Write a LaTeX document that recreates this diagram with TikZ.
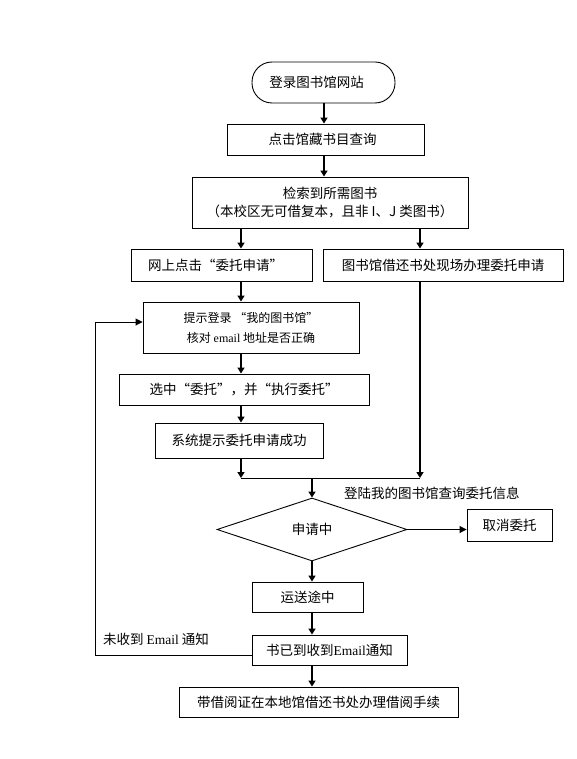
\documentclass[tikz,border=0pt]{standalone}
\usepackage{fontspec}
\setmainfont{Liberation Serif}
\newfontfamily\cjk{Noto Sans CJK SC}
\usetikzlibrary{shapes.geometric,arrows.meta}
\begin{document}
\begin{tikzpicture}[x=1pt,y=-1pt,
  box/.style={draw,line width=0.9pt,inner sep=0pt,align=center,font=\cjk\fontsize{13.5}{17}\selectfont},
  term/.style={box,rounded corners=20pt},
  dec/.style={draw,line width=0.9pt,diamond,inner sep=0pt,font=\cjk\fontsize{13.5}{17}\selectfont},
  lbl/.style={inner sep=0pt,font=\cjk\fontsize{13.5}{17}\selectfont},
  arr/.style={line width=2pt,-{Triangle[length=6pt,width=7pt]}},
  tarr/.style={line width=0.9pt,-{Triangle[length=7pt,width=7pt]}},
  tline/.style={line width=0.9pt}]
\useasboundingbox (0,0) rectangle (576,759);
\fill[white] (0,0) rectangle (576,759);

\node[term,minimum width=143pt,minimum height=41pt] (start) at (323.5,82.5) {登录图书馆网站\hspace*{14pt}};
\node[box,minimum width=197pt,minimum height=31pt] (b2) at (325.5,139.5) {点击馆藏书目查询\hspace*{6pt}};
\node[box,minimum width=276pt,minimum height=51pt] (b3) at (330,202.5) {检索到所需图书\\[1pt]（本校区无可借复本，且非 I、J 类图书）};
\node[box,minimum width=181pt,minimum height=32pt] (b4) at (221.5,265) {网上点击“委托申请”\hspace*{12pt}};
\node[box,minimum width=240pt,minimum height=32pt] (b5) at (443,265) {图书馆借还书处现场办理委托申请};
\node[box,minimum width=216pt,minimum height=51pt,font=\cjk\fontsize{12}{20}\selectfont] (b6) at (251,327.5) {提示登录 “我的图书馆”\\核对 {\rmfamily email} 地址是否正确};
\node[box,minimum width=250pt,minimum height=31pt] (b7) at (244,389.5) {选中“委托”，并“执行委托”};
\node[box,minimum width=168pt,minimum height=35pt] (b8) at (239,440.5) {系统提示委托申请成功};
\node[dec,minimum width=190pt,minimum height=63pt] (d) at (312,529.5) {申请中};
\node[box,minimum width=85pt,minimum height=32pt] (cancel) at (509.5,525) {取消委托};
\node[box,minimum width=111pt,minimum height=30pt] (b9) at (307.5,597) {运送途中};
\node[box,minimum width=155pt,minimum height=30pt] (b10) at (329.5,650) {书已到收到{\rmfamily Email}通知};
\node[box,minimum width=279pt,minimum height=30pt] (b11) at (318.5,702) {带借阅证在本地馆借还书处办理借阅手续};

\node[lbl,anchor=west] (l1) at (344,493) {登陆我的图书馆查询委托信息};
\node[lbl,anchor=west] (l2) at (103,639) {未收到 {\rmfamily Email} 通知};

\coordinate (xa) at (324,0);
\coordinate (xl) at (241,0);
\coordinate (xr) at (420,0);
\coordinate (xm) at (312,0);
\coordinate (jl) at (241,478);
\coordinate (jr) at (420,478);
\coordinate (jm) at (312,478);
\coordinate (lx) at (95,0);

\draw[arr] (start.south -| xa) -- (b2.north -| xa);
\draw[arr] (b2.south -| xa) -- (b3.north -| xa);
\draw[arr] (b3.south -| xl) -- (b4.north -| xl);
\draw[arr] (b3.south -| xr) -- (b5.north -| xr);
\draw[arr] (b4.south -| xl) -- (b6.north -| xl);
\draw[arr] (b6.south -| xl) -- (b7.north -| xl);
\draw[arr] (b7.south -| xl) -- (b8.north -| xl);
\draw[arr] (b8.south -| xl) -- (jl);
\draw[arr] (b5.south -| xr) -- (jr);
\draw[tline] (jl) -- (jr);
\draw[arr] (jm) -- (d.north);
\draw[tarr] (d.east) -- (cancel.west |- d.east);
\draw[arr] (d.south) -- (b9.north -| xm);
\draw[arr] (b9.south -| xm) -- (b10.north -| xm);
\draw[arr] (b10.south -| xm) -- (b11.north -| xm);
\draw[tarr] (b10.west |- 0,655) -- (lx |- 0,655) -- (lx |- 0,322) -- (b6.west |- 0,322);
\end{tikzpicture}
\end{document}
